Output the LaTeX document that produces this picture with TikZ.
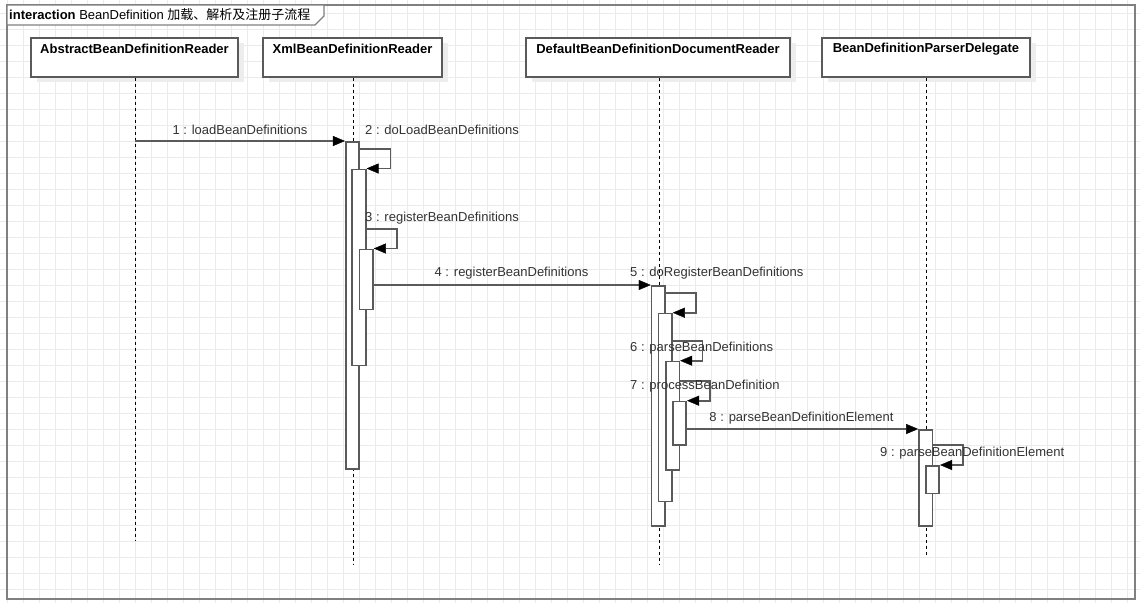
\documentclass[tikz,border=0pt]{standalone}
\usepackage{fontspec}
\setmainfont{Liberation Sans}
\newfontfamily\cjk{Noto Sans CJK SC}
\usetikzlibrary{arrows.meta}
\definecolor{gridc}{HTML}{EBEBEB}
\definecolor{linec}{HTML}{5A5A5A}
\definecolor{framec}{HTML}{808080}
\definecolor{txtc}{HTML}{333333}
\tikzset{
  headbox/.style={draw=linec,line width=1.6pt,fill=white,minimum width=#1,minimum height=39pt,inner sep=0pt},
  headtxt/.style={font=\fontsize{13}{15}\selectfont\bfseries,text=black},
  bar/.style={draw=linec,line width=1.6pt,fill=white,minimum width=13.5pt,inner sep=0pt,anchor=north},
  lifeline/.style={draw=black,line width=1pt,dash pattern=on 3pt off 3pt},
  msg/.style={draw=linec,line width=1.6pt,-{Triangle[length=12pt,width=10pt,black,line width=0.4pt]}},
  lbl/.style={font=\fontsize{13}{15}\selectfont,text=txtc,inner sep=0pt},
}
\begin{document}
\begin{tikzpicture}[x=1pt,y=-1pt]
\useasboundingbox (0,0) rectangle (1140,603);
\fill[white] (0,0) rectangle (1140,603);
% grid
\foreach \i in {0,...,71} {\draw[gridc,line width=1pt] (7.3+16*\i-16,0) -- (7.3+16*\i-16,603);}
\foreach \j in {0,...,38} {\draw[gridc,line width=1pt] (0,13.3+16*\j-16) -- (1140,13.3+16*\j-16);}
% frame
\draw[framec,line width=1.8pt] (7,5) rectangle (1135,599);
\draw[framec,line width=1.3pt,fill=white] (7,5) -- (324,5) -- (324,16) -- (315,25) -- (7,25) -- cycle;
\node[lbl,anchor=west,text=black] (title) at (9,15) {\textbf{interaction} BeanDefinition {\cjk 加载、解析及注册子流程}};
% heads with shadows
\foreach \x/\w in {134.5/207,352.5/179,658/264,926/208} {\fill[black!7] (\x-\w/2+6,43) rectangle (\x+\w/2+6,82);}
\node[headbox=207pt,anchor=north] (h1) at (134.5,37) {};
\node[headbox=179pt,anchor=north] (h2) at (352.5,37) {};
\node[headbox=264pt,anchor=north] (h3) at (658,37) {};
\node[headbox=208pt,anchor=north] (h4) at (926,37) {};
\node[headtxt] (t1) at (134.5,49) {AbstractBeanDefinitionReader};
\node[headtxt] (t2) at (352.5,49) {XmlBeanDefinitionReader};
\node[headtxt] (t3) at (658,49) {DefaultBeanDefinitionDocumentReader};
\node[headtxt] (t4) at (926,49) {BeanDefinitionParserDelegate};
% lifeline ends
\coordinate (e1) at (135,541);
\coordinate (e2) at (353,565);
\coordinate (e3) at (659,565);
\coordinate (e4) at (926,557);
\draw[lifeline] (h1.south -| e1) -- (e1);
\draw[lifeline] (h2.south -| e2) -- (e2);
\draw[lifeline] (h3.south -| e3) -- (e3);
\draw[lifeline] (h4.south -| e4) -- (e4);
% activation bars
\node[bar,minimum height=327pt] (b1) at (352.5,141) {};
\node[bar,minimum height=196pt] (b2) at (359,168.5) {};
\node[bar,minimum height=60pt] (b3) at (366.3,248.5) {};
\node[bar,minimum height=240pt] (bA) at (658.3,285) {};
\node[bar,minimum height=188pt] (bB) at (665.2,312.7) {};
\node[bar,minimum height=108.6pt] (bC) at (672.6,360.7) {};
\node[bar,minimum height=43.6pt] (bD) at (679.5,400.7) {};
\node[bar,minimum height=96pt] (bE) at (925.7,429) {};
\node[bar,minimum height=27.7pt] (bF) at (932.5,465) {};
% messages
\draw[msg] (e1 |- b1.north) -- (b1.north west);
\draw[msg] ([yshift=-8pt]b1.north east) -| ([xshift=24pt]b2.north east) -- (b2.north east);
\draw[msg] ([yshift=19.5pt]b3.north -| b2.east) -| ([xshift=23pt]b3.north east) -- (b3.north east);
\draw[msg] (b3.east |- bA.north) -- (bA.north west);
\draw[msg] ([yshift=-8pt]bA.north east) -| ([xshift=23.3pt]bB.north east) -- (bB.north east);
\draw[msg] ([yshift=20pt]bC.north -| bB.east) -| ([xshift=22.4pt]bC.north east) -- (bC.north east);
\draw[msg] ([yshift=20pt]bD.north -| bC.east) -| ([xshift=22.7pt]bD.north east) -- (bD.north east);
\draw[msg] (bD.east |- bE.north) -- (bE.north west);
\draw[msg] ([yshift=20.3pt]bF.north -| bE.east) -| ([xshift=22.7pt]bF.north east) -- (bF.north east);
% labels
\node[lbl] (l1) at (240,130) {1 : loadBeanDefinitions};
\node[lbl,anchor=west] (l2) at (365,130) {2 : doLoadBeanDefinitions};
\node[lbl,anchor=west] (l3) at (365,218) {3 : registerBeanDefinitions};
\node[lbl] (l4) at (511.5,273.5) {4 : registerBeanDefinitions};
\node[lbl,anchor=west] (l5) at (630,273.5) {5 : doRegisterBeanDefinitions};
\node[lbl,anchor=west] (l6) at (630,348) {6 : parseBeanDefinitions};
\node[lbl,anchor=west] (l7) at (630,386) {7 : processBeanDefinition};
\node[lbl] (l8) at (801.5,418) {8 : parseBeanDefinitionElement};
\node[lbl,anchor=west] (l9) at (880,453) {9 : parseBeanDefinitionElement};
\end{tikzpicture}
\end{document}
